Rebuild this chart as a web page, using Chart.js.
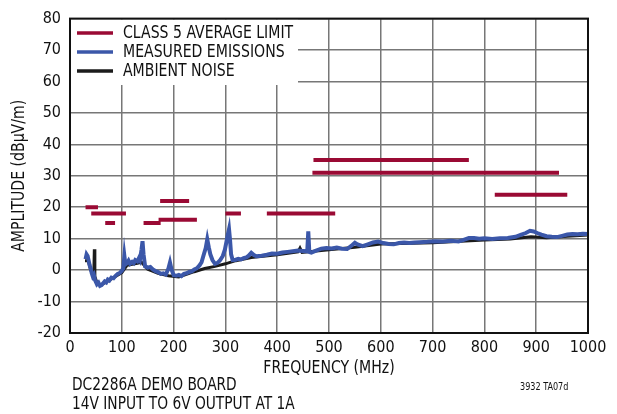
<!DOCTYPE html>
<html>
<head>
<meta charset="utf-8">
<script src="https://cdn.jsdelivr.net/npm/chart.js@4/dist/chart.umd.min.js"></script>
<style>
  html, body { margin: 0; padding: 0; background: #fff; }
  #wrap { width: 617px; height: 414px; }
</style>
</head>
<body>
<div id="wrap"><canvas id="emiChart" width="617" height="414"></canvas></div>
<script>
// CISPR 25 class 5 average limit segments (MHz, dBuV/m)
const limitStart = [30, 41, 76, 68, 142, 174, 171, 300, 380, 420, 468, 470, 820, 860];
const limitEnd   = [54, 88, 108, 87, 175, 230, 245, 330, 512, 450, 944, 770, 960, 925];
const limitLevel = [20, 18, 18, 15, 15, 22, 16, 18, 18, 18, 31, 35, 24, 24];

// measured emissions trace
const measFreq = [30, 32, 34, 36, 38, 40, 42, 44, 46, 48, 50, 52, 55, 58, 61, 64, 67, 70, 73, 76, 80, 84, 88, 92, 96,
  100, 103, 105, 107, 110, 113, 116, 120, 123, 126, 130, 133, 135, 138, 140, 142, 145, 150, 155, 160, 165, 170, 175,
  180, 185, 190, 193, 196, 200, 205, 210, 215, 220, 225, 230, 235, 240, 245, 250, 254, 258, 262, 265, 268, 271, 275,
  280, 285, 290, 295, 299, 302, 305, 307, 309, 311, 314, 320, 325, 330, 335, 340, 345, 350, 355, 360, 370, 380, 390,
  400, 410, 420, 430, 440, 450, 458, 460, 462, 466, 475, 485, 495, 505, 515, 525, 535, 545, 550, 555, 565, 575, 585,
  595, 605, 615, 625, 635, 645, 655, 665, 675, 690, 705, 720, 735, 750, 760, 770, 780, 790, 800, 815, 830, 845, 860,
  870, 880, 888, 895, 902, 910, 920, 930, 940, 950, 960, 970, 980, 990, 1000];
const measLevel = [3.5, 5.0, 4.5, 3.0, 1.5, 0.5, -1.0, -2.0, -1.5, -3.0, -3.8, -4.5, -4.0, -5.0, -4.8, -4.2, -3.6, -3.9,
  -3.0, -3.3, -2.4, -2.6, -1.8, -1.2, -0.9, -0.2, 0.6, 4.5, 1.8, 2.2, 3.0, 2.0, 2.6, 2.2, 3.2, 2.8, 3.8, 3.2, 6.5, 9.2,
  5.0, 1.2, 0.8, 1.0, 0.2, -0.3, -0.6, -1.2, -1.0, -1.4, 0.5, 2.4, 0.2, -1.6, -1.8, -1.5, -1.9, -1.2, -1.0, -0.6, -0.4,
  0.2, 0.6, 1.5, 2.5, 4.8, 7.0, 9.8, 7.2, 5.0, 3.2, 2.0, 2.3, 3.2, 4.5, 6.5, 9.0, 11.5, 13.0, 9.5, 5.0, 3.2, 3.3, 3.6,
  3.4, 3.8, 4.0, 4.6, 5.5, 4.8, 4.4, 4.6, 4.9, 5.3, 5.2, 5.6, 5.8, 6.0, 6.2, 6.1, 6.0, 12.3, 5.8, 5.6, 6.2, 6.8, 7.0,
  6.9, 7.2, 6.8, 6.7, 8.0, 8.7, 8.2, 7.6, 8.2, 8.8, 9.1, 8.6, 8.3, 8.2, 8.6, 8.8, 8.6, 8.8, 8.9, 9.0, 9.2, 9.1, 9.3,
  9.1, 9.6, 10.2, 10.2, 10.0, 10.1, 9.9, 10.1, 10.2, 10.6, 11.2, 11.8, 12.5, 12.3, 11.8, 11.3, 10.8, 10.6, 10.5, 10.9,
  11.3, 11.5, 11.4, 11.6, 11.5];

// ambient noise trace
const ambFreq = [29, 35, 40, 45, 46, 47, 48, 52, 58, 65, 80, 100, 110, 130, 138, 150, 170, 190, 210, 240, 260, 280,
  300, 320, 350, 400, 440, 444, 448, 500, 550, 600, 700, 800, 850, 890, 920, 960, 1000];
const ambLevel = [3.0, 3.0, 0.0, -1.5, -1.0, 6.6, -2.0, -4.0, -4.8, -4.2, -2.8, -0.8, 1.5, 2.2, 2.5, 0.3, -1.0, -1.8,
  -2.2, -0.5, 0.5, 1.2, 2.0, 3.0, 4.0, 4.9, 5.8, 7.0, 5.6, 6.5, 7.3, 8.3, 8.7, 9.6, 9.9, 10.6, 10.3, 10.8, 11.2];

const xTicks = [0, 100, 200, 300, 400, 500, 600, 700, 800, 900, 1000];
const yTicks = [-20, -10, 0, 10, 20, 30, 40, 50, 60, 70, 80];

const RED = "#9a0a34";
const BLUE = "#3b57a9";
const BLACK = "#1b1b1b";
const FONT = "'Liberation Sans Narrow', 'DejaVu Sans Condensed', 'Liberation Sans', sans-serif";

// limit segments -> one dataset with null gaps
const limitPts = [];
limitStart.forEach((s, i) => {
  limitPts.push({ x: s, y: limitLevel[i] });
  limitPts.push({ x: limitEnd[i], y: limitLevel[i] });
  limitPts.push({ x: limitEnd[i], y: null });
});

// narrow text helper (the original uses a condensed face)
function narrowText(ctx, txt, x, y, sx) {
  ctx.save();
  ctx.translate(x, y);
  ctx.scale(sx, 1);
  ctx.fillText(txt, 0, 0);
  ctx.restore();
}

const extras = {
  id: "extras",
  beforeDatasetsDraw(chart) {
    const { ctx, chartArea: a } = chart;
    ctx.save();
    ctx.fillStyle = "#fff";
    ctx.fillRect(a.left + 1, a.top + 1, 297 - a.left, 84 - a.top);
    ctx.restore();
  },
  afterDraw(chart) {
    const { ctx, chartArea: a } = chart;
    ctx.save();
    // frame
    ctx.strokeStyle = "#111";
    ctx.lineWidth = 2;
    ctx.strokeRect(a.left, a.top, a.right - a.left, a.bottom - a.top);

    // legend
    const items = [["CLASS 5 AVERAGE LIMIT", RED], ["MEASURED EMISSIONS", BLUE], ["AMBIENT NOISE", BLACK]];
    ctx.font = "17px " + FONT;
    ctx.textBaseline = "middle";
    items.forEach((it, i) => {
      const y = 33 + i * 19;
      ctx.strokeStyle = it[1];
      ctx.lineWidth = 3.5;
      ctx.beginPath();
      ctx.moveTo(77, y);
      ctx.lineTo(113, y);
      ctx.stroke();
      ctx.fillStyle = "#111";
      narrowText(ctx, it[0], 123, y + 1, 0.92);
    });

    // axis titles and notes
    ctx.fillStyle = "#111";
    ctx.textAlign = "center";
    ctx.font = "17px " + FONT;
    narrowText(ctx, "FREQUENCY (MHz)", (a.left + a.right) / 2, 369, 0.92);
    ctx.save();
    ctx.translate(20, (a.top + a.bottom) / 2);
    ctx.rotate(-Math.PI / 2);
    narrowText(ctx, "AMPLITUDE (dBµV/m)", 0, 0, 0.92);
    ctx.restore();
    ctx.textAlign = "left";
    narrowText(ctx, "DC2286A DEMO BOARD", 72, 386, 0.9);
    narrowText(ctx, "14V INPUT TO 6V OUTPUT AT 1A", 72, 405, 0.9);
    ctx.font = "10px " + FONT;
    narrowText(ctx, "3932 TA07d", 520, 387, 0.9);
    ctx.restore();
  }
};

new Chart(document.getElementById("emiChart"), {
  type: "line",
  data: {
    datasets: [
      {
        label: "AMBIENT NOISE",
        data: ambFreq.map((f, i) => ({ x: f, y: ambLevel[i] })),
        borderColor: BLACK,
        borderWidth: 3,
        pointRadius: 0,
        tension: 0,
        order: 3
      },
      {
        label: "MEASURED EMISSIONS",
        data: measFreq.map((f, i) => ({ x: f, y: measLevel[i] })),
        borderColor: BLUE,
        borderWidth: 4,
        pointRadius: 0,
        tension: 0,
        order: 2
      },
      {
        label: "CLASS 5 AVERAGE LIMIT",
        data: limitPts,
        borderColor: RED,
        borderWidth: 4,
        borderCapStyle: "butt",
        pointRadius: 0,
        spanGaps: false,
        order: 1
      }
    ]
  },
  options: {
    responsive: false,
    animation: false,
    layout: { padding: { top: 15, right: 29, left: 0, bottom: 0 } },
    plugins: { legend: { display: false }, tooltip: { enabled: false } },
    scales: {
      x: {
        type: "linear",
        min: 0,
        max: 1000,
        afterBuildTicks: s => { s.ticks = xTicks.map(v => ({ value: v })); },
        afterFit: s => { s.height = 81; },
        ticks: { font: { family: FONT, size: 16 }, color: "#111", padding: 5, maxRotation: 0,
                 callback: v => String(v) },
        grid: { color: "#777", lineWidth: 1.5, drawTicks: false },
        border: { color: "#111", width: 2 }
      },
      y: {
        min: -20,
        max: 80,
        afterBuildTicks: s => { s.ticks = yTicks.map(v => ({ value: v })); },
        afterFit: s => { s.width = 70; },
        ticks: { font: { family: FONT, size: 16 }, color: "#111", padding: 9 },
        grid: { color: "#777", lineWidth: 1.5, drawTicks: false },
        border: { color: "#111", width: 2 }
      }
    }
  },
  plugins: [extras]
});
</script>
</body>
</html>
